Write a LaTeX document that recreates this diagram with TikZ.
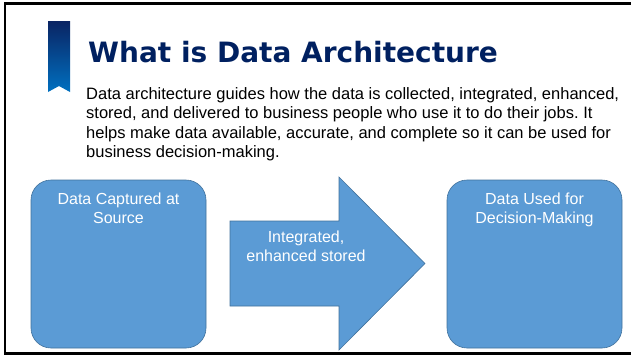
\documentclass[tikz,border=0pt]{standalone}
\usepackage{fontspec}
\setmainfont{Liberation Sans}
\newfontfamily\titlefont{DejaVu Sans}
\usepackage{tikz}
\usetikzlibrary{positioning}
\frenchspacing

\definecolor{boxblue}{HTML}{5B9BD5}
\definecolor{boxedge}{HTML}{41719C}
\definecolor{titlenavy}{HTML}{002060}
\definecolor{ribbontop}{HTML}{0A2463}
\definecolor{ribbonbot}{HTML}{0070C0}

\tikzset{
    stagebox/.style={draw=boxedge, fill=boxblue, line width=0.6pt, rounded corners=20pt,
        minimum width=175pt, minimum height=168pt, inner sep=0pt},
    stagetext/.style={text=white, align=center, font=\fontsize{16}{19}\selectfont, inner sep=0pt}
}

\begin{document}
\begin{tikzpicture}[x=1pt, y=-1pt]
    \useasboundingbox (0, 0) rectangle (631, 356);
    % frame
    \draw[line width=2.6pt] (631, 3.5) -- (5, 3.5) -- (5, 353.5) -- (631, 353.5);
    % ribbon
    \shade[top color=ribbontop, bottom color=ribbonbot] (48, 21) -- (70, 21) -- (70, 92) -- (59, 86) -- (48, 92) -- cycle;
    \node[anchor=base west, inner sep=0pt, text=titlenavy, font=\titlefont\bfseries\fontsize{28}{30}\selectfont] (title) at (88, 62) {What is Data Architecture};
    \node[anchor=north west, inner sep=0pt, align=left, font=\fontsize{16.5}{19.5}\selectfont] (intro) at (86, 87)
        {Data architecture guides how the data is collected, integrated, enhanced,\\
         stored, and delivered to business people who use it to do their jobs. It\\
         helps make data available, accurate, and complete so it can be used for\\
         business decision-making.};

    \node[stagebox] (src) at (118.5, 264) {};
    \node[stagetext, below=13pt of src.north] (srctext) {Data Captured at\\Source};

    \fill[boxblue, draw=boxedge, line width=0.6pt] (230, 221) -- (339, 221) -- (339, 177) -- (425, 263.5)
        -- (339, 350) -- (339, 306) -- (230, 306) -- cycle;
    \node[stagetext] (flowtext) at (306, 246) {Integrated,\\enhanced stored};

    \node[stagebox] (use) at (534.5, 264) {};
    \node[stagetext, below=13pt of use.north] (usetext) {Data Used for\\Decision-Making};
\end{tikzpicture}
\end{document}
